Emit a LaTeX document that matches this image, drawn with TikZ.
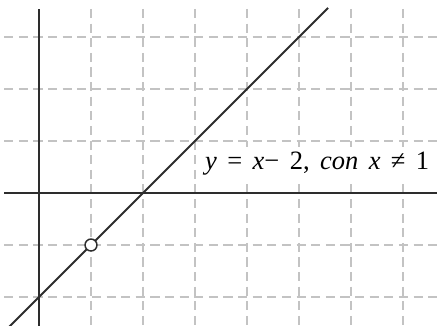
\documentclass[tikz,border=0pt]{standalone}
\usepackage{fontspec}
\setmainfont{Liberation Serif}
\usepackage{xcolor}
\usetikzlibrary{positioning}
\definecolor{gridgray}{RGB}{195,195,195}
\definecolor{inkdark}{RGB}{45,45,45}

\begin{document}
\begin{tikzpicture}[
  x=1cm,y=1cm,
  gridline/.style={gridgray,line width=0.8pt,dash pattern=on 5pt off 3pt},
  axis/.style={inkdark,line width=1.1pt},
  graph/.style={inkdark,line width=1.1pt},
  hole/.style={circle,draw=inkdark,line width=0.8pt,fill=white,inner sep=0pt,minimum size=2.3mm},
  label/.style={fill=white,inner sep=2.5pt,font=\fontsize{14.5}{17}\selectfont}
]
  \useasboundingbox (-0.75,-2.54) rectangle (7.654,3.712);
  % dashed grid
  \foreach \i in {1,...,7}
    \draw[gridline] (\i,3.54) -- (\i,-2.6);
  \foreach \j in {-2,-1,1,2,3}
    \draw[gridline] (-0.67,\j) -- (7.7,\j);
  % axes
  \coordinate (xl) at (-0.67,0);
  \coordinate (xr) at (7.7,0);
  \coordinate (yb) at (0,-2.6);
  \coordinate (yt) at (0,3.54);
  \draw[axis] (xl) -- (xr);
  \draw[axis] (yb) -- (yt);
  % y = x - 2
  \node[label,anchor=base west] (eq) at (3.10,0.46)
    {\spaceskip=5.7pt\relax \textit{y} = \textit{x}− 2, \textit{con x} ≠ 1};
  \coordinate (ls) at (-0.6,-2.6);
  \coordinate (le) at (5.56,3.56);
  \draw[graph] (ls) -- (le);
  \node[hole] (gap) at (1,-1) {};
\end{tikzpicture}
\end{document}
